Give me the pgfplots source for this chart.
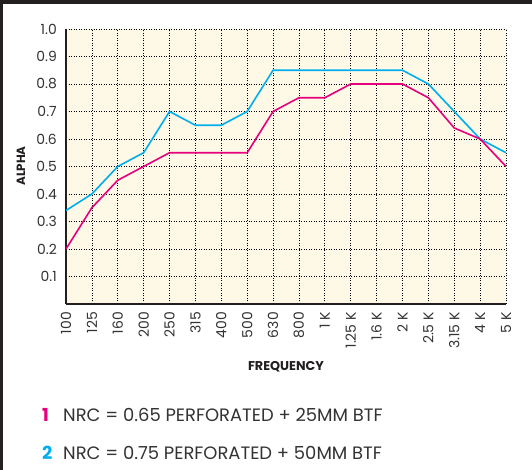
\documentclass[border=0pt]{standalone}
\usepackage{pgfplots}
\pgfplotsset{compat=1.18}
\usepackage{fontspec}
\setmainfont{Poppins}
\definecolor{magc}{HTML}{E6007E}
\definecolor{cyanc}{HTML}{00AEEF}
\definecolor{cream}{HTML}{FDF9E6}
\definecolor{txt}{HTML}{333333}
\definecolor{framec}{HTML}{231F20}
\begin{document}
\begin{tikzpicture}[x=1bp,y=1bp]
\path[use as bounding box] (0,0) rectangle (532,470);
\fill[white] (0,0) rectangle (532,470);
\fill[framec] (0,465.5) rectangle (532,470);
\fill[framec] (0,0) rectangle (3,470);
\begin{axis}[
  at={(66bp,166bp)}, anchor=south west,
  width=440bp, height=275bp, scale only axis,
  xmin=0, xmax=17, ymin=0, ymax=1,
  axis x line*=bottom, axis y line*=left,
  axis line style={line width=1.6bp, color=framec},
  axis background/.style={fill=cream},
  major tick length=0pt,
  grid=major,
  major grid style={black, line width=0.7bp, dash pattern=on 1.2bp off 1.3bp},
  xtick={0,...,17},
  xticklabels={100,125,160,200,250,315,400,500,630,800,1 K,1.25 K,1.6 K,2 K,2.5 K,3.15 K,4 K,5 K},
  ytick={0.1,0.2,0.3,0.4,0.5,0.6,0.7,0.8,0.9,1.0},
  /pgf/number format/assume math mode=true,
  yticklabel style={/pgf/number format/fixed, /pgf/number format/fixed zerofill, /pgf/number format/precision=1,
    font=\fontsize{14}{14}\selectfont, color=txt, inner sep=0pt},
  yticklabel shift=9bp,
  xticklabel style={rotate=90, anchor=east, font=\fontsize{14}{14}\selectfont, color=txt, inner sep=0pt},
  xticklabel shift=8bp,
]
\addplot[cyanc, line width=1.6bp] coordinates {
(0,0.34) (1,0.40) (2,0.50) (3,0.55) (4,0.70) (5,0.65) (6,0.65) (7,0.70) (8,0.85) (9,0.85)
(10,0.85) (11,0.85) (12,0.85) (13,0.85) (14,0.80) (15,0.70) (16,0.60) (17,0.55)};
\addplot[magc, line width=1.6bp] coordinates {
(0,0.20) (1,0.35) (2,0.45) (3,0.50) (4,0.55) (5,0.55) (6,0.55) (7,0.55) (8,0.70) (9,0.75)
(10,0.75) (11,0.80) (12,0.80) (13,0.80) (14,0.75) (15,0.64) (16,0.60) (17,0.50)};
\end{axis}
\node[rotate=90, font=\fontsize{12}{12}\selectfont\bfseries, color=framec] at (21,304) {ALPHA};
\node[font=\fontsize{12.8}{12.8}\selectfont\bfseries, color=framec] at (286,103) {FREQUENCY};
\node[anchor=west, inner sep=0pt, font=\fontsize{18}{18}\selectfont\bfseries, color=magc] at (42,55) {1};
\node[anchor=west, inner sep=0pt, font=\fontsize{18}{18}\selectfont, color=txt] at (63,55) {NRC = 0.65 PERFORATED + 25MM BTF};
\node[anchor=west, inner sep=0pt, font=\fontsize{18}{18}\selectfont\bfseries, color=cyanc] at (42,17) {2};
\node[anchor=west, inner sep=0pt, font=\fontsize{18}{18}\selectfont, color=txt] at (63,17) {NRC = 0.75 PERFORATED + 50MM BTF};
\end{tikzpicture}
\end{document}
